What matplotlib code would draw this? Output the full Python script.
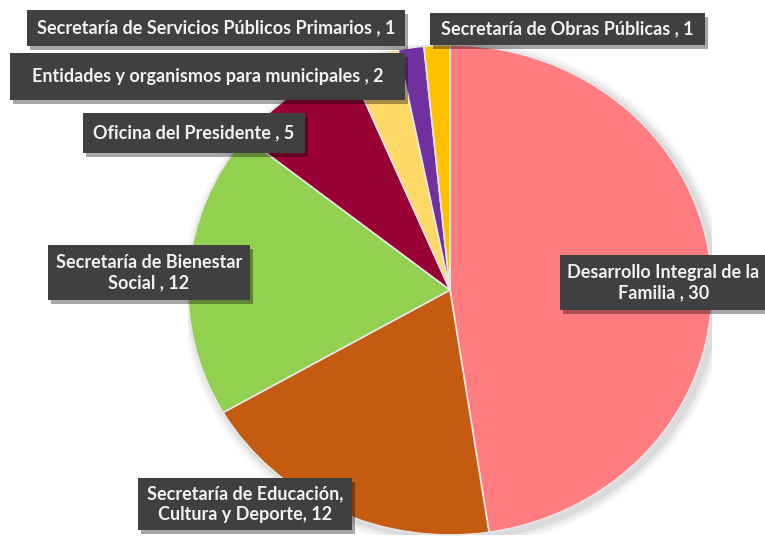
import matplotlib
matplotlib.use("Agg")
import matplotlib.pyplot as plt
from matplotlib.patches import Rectangle, Ellipse

categories = [
    "Desarrollo Integral de la\nFamilia , 30",
    "Secretaría de Educación,\nCultura y Deporte, 12",
    "Secretaría de Bienestar\nSocial , 12",
    "Oficina del Presidente , 5",
    "Entidades y organismos para municipales , 2",
    "Secretaría de Servicios Públicos Primarios , 1",
    "Secretaría de Obras Públicas , 1",
]
values = [30, 12, 12, 5, 2, 1, 1]
colors = ["#FF7C80", "#C55A11", "#92D050", "#990033", "#FFD966", "#7030A0", "#FFC000"]

W, H = 765, 536
fig = plt.figure(figsize=(W / 100, H / 100), dpi=100)
fig.patch.set_facecolor("white")

# axes placed so that the pie maps to pixel box x 188..712, y 45..535
left, right, top, bottom = 188, 712, 45, 535
ax = fig.add_axes([left / W, (H - bottom) / H, (right - left) / W, (bottom - top) / H])
ax.set_zorder(1)

# soft shadow
for i, a in enumerate([0.05, 0.04, 0.03, 0.02]):
    ax.add_patch(Ellipse((0.015, -0.015), 2 + 0.02 * (i + 1), 2 + 0.02 * (i + 1),
                         facecolor="black", alpha=a, edgecolor="none", zorder=0))

ax.pie(values, colors=colors, startangle=90, counterclock=False,
       wedgeprops=dict(edgecolor="#E6E6E6", linewidth=1.2), radius=1.0)
ax.set_aspect("auto")
ax.set_xlim(-1, 1)
ax.set_ylim(-1, 1)
ax.axis("off")

# label boxes (pixel layout: x0, y0, x1, y1)
boxes = [
    (560, 255, 775, 310),
    (138, 478, 352, 530),
    (48, 245, 250, 300),
    (83, 113, 305, 153),
    (10, 53, 405, 100),
    (27, 10, 405, 46),
    (430, 13, 705, 45),
]

for lab, (x0, y0, x1, y1) in zip(categories, boxes):
    fig.patches.append(Rectangle(((x0 + 3) / W, (H - y1 - 4) / H), (x1 - x0) / W, (y1 - y0) / H,
                                 transform=fig.transFigure, facecolor="black", alpha=0.35,
                                 edgecolor="none", zorder=3))
    fig.patches.append(Rectangle((x0 / W, (H - y1) / H), (x1 - x0) / W, (y1 - y0) / H,
                                 transform=fig.transFigure, facecolor="#404040",
                                 edgecolor="none", zorder=4))
    cx = (x0 + x1) / 2 if x1 <= 765 else (x0 + 767) / 2
    cy = (y0 + y1) / 2
    fig.text(cx / W, (H - cy) / H, lab, ha="center", va="center", color="#F2F2F2",
             fontsize=13, fontweight="bold", family=["Lato", "DejaVu Sans"],
             linespacing=1.25, zorder=5)

fig.savefig("out.png", dpi=100)
